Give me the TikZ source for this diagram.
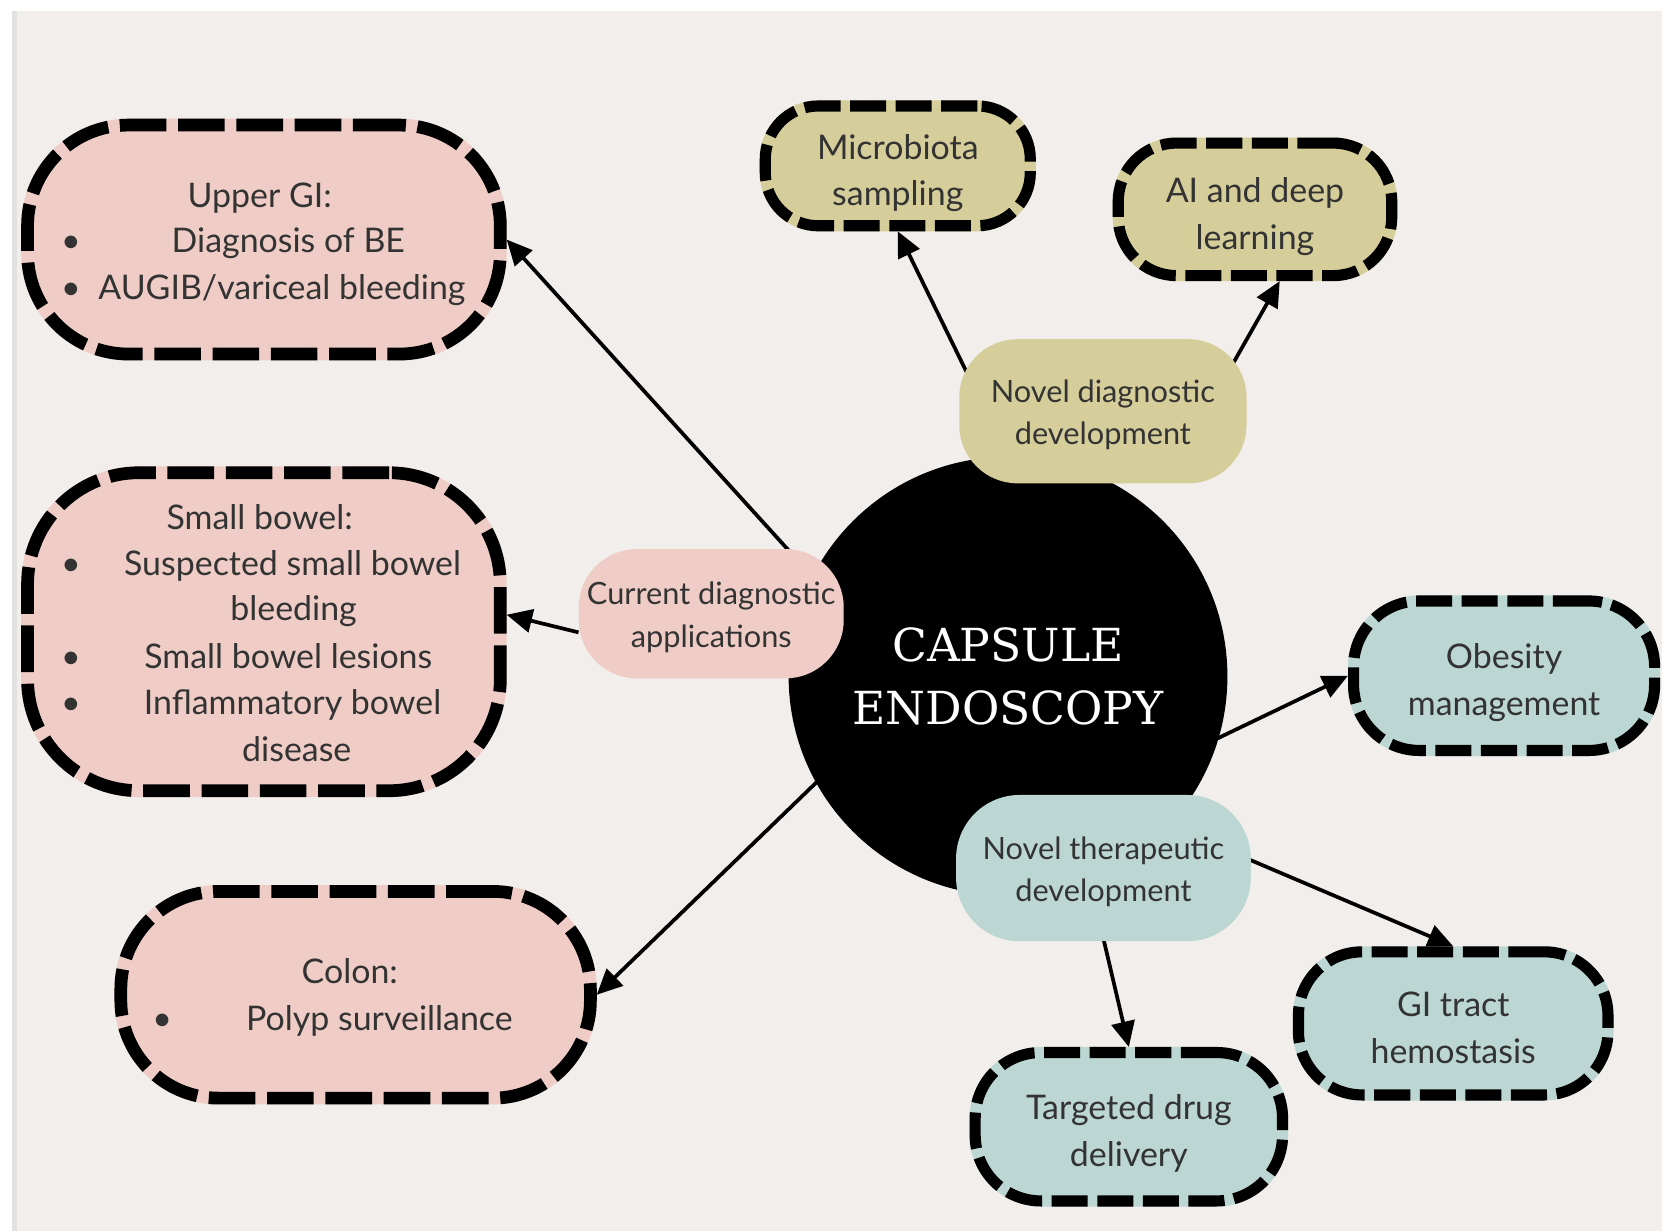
\documentclass[tikz,border=0pt]{standalone}
\usepackage{fontspec}
\setmainfont{Lato}
\newfontfamily\titlefont{DejaVu Serif}
\usetikzlibrary{arrows.meta}
\definecolor{bgc}{HTML}{F1EEEB}
\definecolor{pinkc}{HTML}{EFCDC6}
\definecolor{olivec}{HTML}{D6CE9A}
\definecolor{tealc}{HTML}{BCD7D3}
\definecolor{txtc}{HTML}{333333}
\definecolor{edgec}{HTML}{E2E2E0}
\newcommand{\BoxTopStrut}{\rule{0pt}{1.22em}}
\newcommand{\LblTopStrut}{\rule{0pt}{1.04em}}
\newcommand{\BotStrut}{\rule[-0.25em]{0pt}{0pt}}
\pgfdeclarelayer{back}
\pgfdeclarelayer{bg}
\pgfsetlayers{back,bg,main}
\tikzset{
  bigbox/.style={fill=#1, draw=black, line width=12pt, dash pattern=on 44pt off 11pt,
    preaction={draw=#1, solid, line width=12pt}, inner sep=0pt},
  smallbox/.style={fill=#1, draw=black, line width=10.5pt, dash pattern=on 34pt off 9pt,
    preaction={draw=#1, solid, line width=10.5pt}, inner sep=0pt, align=center,
    text=txtc, font=\fontsize{32}{44}\selectfont},
  lbl/.style={fill=#1, inner sep=0pt, align=center, text=txtc,
    font=\fontsize{29}{40}\selectfont},
  txt/.style={inner sep=0pt, text=txtc, font=\fontsize{32}{44}\selectfont,
    text height=0.72em, text depth=0.22em},
  conn/.style={line width=3.5pt, draw=black, -{Triangle[length=24pt,width=22pt]}},
}
\begin{document}
\begin{tikzpicture}[x=1pt,y=-1pt]
% background
\begin{pgfonlayer}{back}
\fill[white] (0,0) rectangle (1568,1161);
\fill[bgc] (11.3,10.4) rectangle (1568,1161);
\fill[edgec] (11.3,10.4) rectangle (16,1161);
\end{pgfonlayer}
\useasboundingbox (0,0) rectangle (1568,1161);

% central circle
\node[circle, fill=black, minimum size=414pt, inner sep=0pt, align=center,
  text=white, font=\titlefont\fontsize{43}{60}\selectfont] (ce) at (951,638)
  {CAPSULE\\ENDOSCOPY};

% inner labels
\node[lbl=pinkc, minimum width=250pt, minimum height=122pt, rounded corners=55pt] (cd) at (671,579)
  {\LblTopStrut Current diagnostic\\applications\BotStrut};
\node[lbl=olivec, minimum width=271pt, minimum height=136pt, rounded corners=55pt] (nd) at (1040.5,388)
  {\LblTopStrut Novel diagnostic\\development\BotStrut};
\node[lbl=tealc, minimum width=278pt, minimum height=138pt, rounded corners=60pt] (nt) at (1041,819)
  {\LblTopStrut Novel therapeutic\\development\BotStrut};

% outer boxes (pink)
\node[bigbox=pinkc, minimum width=446pt, minimum height=216pt, rounded corners=95pt] (ugi) at (249,226) {};
\node[txt] (ugi1) at (245,193) {Upper GI:};
\node[txt] (ugi2) at (272,236) {Diagnosis of BE};
\node[txt] (ugi3) at (266,280) {AUGIB/variceal bleeding};
\node[txt] (ugib2) at (67,236) {•};
\node[txt] (ugib3) at (67,280) {•};

\node[bigbox=pinkc, minimum width=446pt, minimum height=300pt, rounded corners=105pt] (sb) at (249,596) {};
\node[txt] (sb1) at (245,497) {Small bowel:};
\node[txt] (sb2) at (276,540) {Suspected small bowel};
\node[txt] (sb3) at (277,583) {bleeding};
\node[txt] (sb4) at (272,628) {Small bowel lesions};
\node[txt] (sb5) at (276,672) {Inflammatory bowel};
\node[txt] (sb6) at (280,716) {disease};
\node[txt] (sbb2) at (67,540) {•};
\node[txt] (sbb4) at (67,628) {•};
\node[txt] (sbb5) at (67,672) {•};

\node[bigbox=pinkc, minimum width=443pt, minimum height=195pt, rounded corners=92pt] (co) at (335.5,938.5) {};
\node[txt] (co1) at (330,925) {Colon:};
\node[txt] (co2) at (358,970) {Polyp surveillance};
\node[txt] (cob2) at (153,970) {•};

% olive boxes
\node[smallbox=olivec, minimum width=250pt, minimum height=113pt, rounded corners=50pt] (mb) at (847,156.5)
  {\BoxTopStrut Microbiota\\sampling\BotStrut};
\node[smallbox=olivec, minimum width=258pt, minimum height=125pt, rounded corners=55pt] (ai) at (1184,197.5)
  {\BoxTopStrut AI and deep\\learning\BotStrut};

% teal boxes
\node[smallbox=tealc, minimum width=284pt, minimum height=141pt, rounded corners=62pt] (ob) at (1419,637.5)
  {\BoxTopStrut Obesity\\management\BotStrut};
\node[smallbox=tealc, minimum width=292pt, minimum height=135pt, rounded corners=60pt] (gi) at (1371,965.5)
  {\BoxTopStrut GI tract\\hemostasis\BotStrut};
\node[smallbox=tealc, minimum width=290pt, minimum height=140pt, rounded corners=62pt] (td) at (1065,1063)
  {\BoxTopStrut Targeted drug\\delivery\BotStrut};

% hidden start points of connectors
\coordinate (s1) at (781,560);
\coordinate (s3) at (820,690);
\coordinate (s4) at (930,388);
\coordinate (s5) at (1140,384);
\coordinate (s6) at (1100,720);
\coordinate (s7) at (1120,786);
\coordinate (s8) at (1035,860);

\begin{pgfonlayer}{bg}
\draw[conn] (s1) -- (ugi.east);
\draw[conn] (cd.188) -- (sb.4);
\draw[conn] (s3) -- (co.east);
\draw[conn] (s4) -- (mb.south);
\draw[conn] (s5) -- (ai.-71);
\draw[conn] (s6) -- (ob.west);
\draw[conn] (s7) -- (gi.north);
\draw[conn] (s8) -- (td.north);
\end{pgfonlayer}
\end{tikzpicture}
\end{document}
